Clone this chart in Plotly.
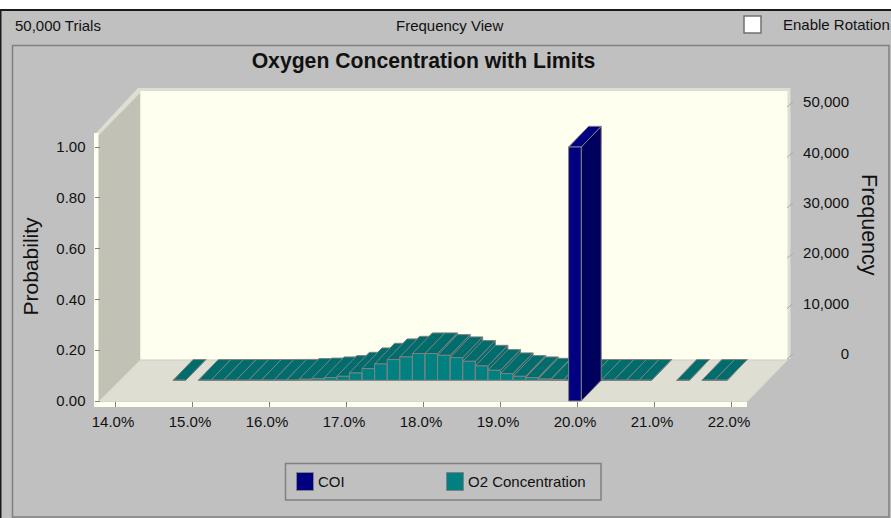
import plotly.graph_objects as go

# ---- data ----
title = "Oxygen Concentration with Limits"
trials_label = "50,000 Trials"
view_label = "Frequency View"
rotation_label = "Enable Rotation"

x_ticks = [14, 15, 16, 17, 18, 19, 20, 21, 22]
x_tick_labels = ["14.0%", "15.0%", "16.0%", "17.0%", "18.0%", "19.0%", "20.0%", "21.0%", "22.0%"]
prob_ticks = [0.0, 0.2, 0.4, 0.6, 0.8, 1.0]
freq_ticks = [0, 10000, 20000, 30000, 40000, 50000]

coi_bin = [19.973]
coi_prob = [1.0]

o2_bins = [14.577, 14.904, 15.068, 15.231, 15.395, 15.558, 15.722, 15.885, 16.049,
           16.212, 16.376, 16.539, 16.703, 16.866, 17.03, 17.193, 17.357, 17.52,
           17.684, 17.847, 18.011, 18.174, 18.338, 18.501, 18.665, 18.828, 18.992,
           19.155, 19.319, 19.482, 19.646, 19.809, 19.973, 20.136, 20.3, 20.463,
           20.627, 21.117, 21.444, 21.608]
o2_prob = [0.0001, 0.0001, 0.0001, 0.0002, 0.0002, 0.0003, 0.0004, 0.0006, 0.0008,
           0.004, 0.006, 0.0106, 0.0157, 0.0287, 0.0461, 0.0642, 0.0815, 0.0917,
           0.1051, 0.1051, 0.0984, 0.0894, 0.0748, 0.0563, 0.0394, 0.0264, 0.0157,
           0.0106, 0.0051, 0.0024, 0.0012, 0.0006, 0.0004, 0.0003, 0.0002, 0.0001,
           0.0001, 0.0001, 0.0001, 0.0001]

# ---- styling / geometry ----
W, H = 891, 518
PANEL = "#C0C0C0"
WALL = "#FFFFF0"
SIDE_WALL = "#C1C1B6"
FLOOR = "#DEDED3"
EDGE = "#808080"
TEAL, TEAL_DARK = "#008080", "#006C6C"
NAVY, NAVY_DARK = "#000080", "#00005E"
FONT = "Liberation Sans"

PX_PER_PCT = 77.0
PX_PER_PROB = 254.0
PX_PER_FREQ = 252.0 / 50000
X0_PX, Y0_PX, Y2_0_PX = 115.0, 401.0, 354.0

half_bin = 0.08175
dx = 20.0 / PX_PER_PCT          # oblique depth of one series row
dy = 20.7 / PX_PER_PROB


def fx(px):
    return px / W


def fy(py):
    return 1 - py / H


def poly(points, fill, line=None, lw=0):
    path = "M " + " L ".join(f"{fx(a):.5f} {fy(b):.5f}" for a, b in points) + " Z"
    return dict(type="path", xref="paper", yref="paper", path=path, fillcolor=fill,
                line=dict(color=line or fill, width=lw), layer="below")


def rect(x0, y0, x1, y1, fill, line=None, lw=0):
    return dict(type="rect", xref="paper", yref="paper", x0=fx(x0), x1=fx(x1),
                y0=fy(y1), y1=fy(y0), fillcolor=fill,
                line=dict(color=line or fill, width=lw), layer="below")


def bar_faces(center, value, row):
    """Returns (front, side, top) polygons of one oblique bar in data units."""
    x0 = center - half_bin + row * dx
    x1 = center + half_bin + row * dx
    y0 = row * dy
    y1 = y0 + value
    front = ([x0, x1, x1, x0, x0], [y0, y0, y1, y1, y0])
    side = ([x1, x1 + dx, x1 + dx, x1, x1], [y0, y0 + dy, y1 + dy, y1, y0])
    top = ([x0, x1, x1 + dx, x0 + dx, x0], [y1, y1, y1 + dy, y1 + dy, y1])
    return front, side, top


def face(xy, fill, name, show=False):
    return go.Scatter(x=xy[0], y=xy[1], mode="lines", fill="toself", fillcolor=fill,
                      line=dict(color=EDGE, width=1), name=name, showlegend=show,
                      hoverinfo="skip", xaxis="x", yaxis="y")


fig = go.Figure()

# O2 concentration row (back row), painted left to right, fronts last
o2_front_x, o2_front_y = [], []
for c, v in zip(o2_bins, o2_prob):
    f, s, t = bar_faces(c, v, 1)
    fig.add_trace(face(s, TEAL_DARK, "O2 Concentration"))
    fig.add_trace(face(t, TEAL_DARK, "O2 Concentration"))
    o2_front_x += f[0] + [None]
    o2_front_y += f[1] + [None]
fig.add_trace(face((o2_front_x, o2_front_y), TEAL, "O2 Concentration"))

# COI row (front row)
for c, v in zip(coi_bin, coi_prob):
    f, s, t = bar_faces(c, v, 0)
    fig.add_trace(face(s, NAVY_DARK, "COI"))
    fig.add_trace(face(t, NAVY, "COI"))
    fig.add_trace(face(f, NAVY, "COI"))

# right-hand frequency ticks: small oblique strokes on the frequency axis
rx0 = 14 + (787 - X0_PX) / PX_PER_PCT
rx1 = 14 + (793 - X0_PX) / PX_PER_PCT
tick_x, tick_y = [], []
for v in freq_ticks:
    tick_x += [rx0, rx1, None]
    tick_y += [v - 5 / PX_PER_FREQ, v, None]
fig.add_trace(go.Scatter(x=tick_x, y=tick_y, mode="lines", xaxis="x", yaxis="y2",
                         line=dict(color="#A9A9A0", width=1), showlegend=False,
                         hoverinfo="skip"))

shapes = [
    rect(0, 0, W, 9.5, "#FFFFFF"),
    rect(0, 9, W, 11, "#1A1A1A"),
    rect(0, 10, 1.5, H, "#1A1A1A"),
    rect(12.5, 45.5, 889, 517, PANEL, EDGE, 1.5),
    # checkbox
    rect(744, 16, 761, 33, "#FFFFFF", "#707070", 1.5),
    # 3-D box
    rect(139, 88, 790.5, 359, FLOOR),
    poly([(98, 135), (140, 91), (140, 360), (98, 401)], SIDE_WALL),
    poly([(95, 134), (138, 88), (141, 88), (141, 92), (98, 136)], FLOOR),
    rect(140.5, 91, 787.5, 360, WALL),
    poly([(98, 402), (140, 360), (788, 360), (747, 402)], FLOOR, "#CDCDC2", 1),
    rect(94, 133, 98.5, 407, WALL),
    rect(94, 402, 747, 407, WALL),
    # legend
    rect(285.5, 463.5, 601, 500, PANEL, EDGE, 1.5),
    rect(296.5, 472.5, 313.5, 490.5, NAVY, EDGE, 1),
    rect(446.5, 472.5, 463.5, 490.5, TEAL, EDGE, 1),
]


def text(s, x, y, size=15, anchor="left", angle=0):
    return dict(text=s, x=fx(x), y=fy(y), xref="paper", yref="paper", showarrow=False,
                xanchor=anchor, yanchor="middle", textangle=angle,
                font=dict(family=FONT, size=size, color="#111111"))


annotations = [
    text(trials_label, 13, 25),
    text(view_label, 449, 25.5, anchor="center"),
    text(rotation_label, 781, 24.5),
    text("COI", 316, 481.5),
    text("O2 Concentration", 466, 481.5),
    text("Probability", 30, 266.5, size=21, anchor="center", angle=-90),
    text("Frequency", 869, 225, size=21.5, anchor="center", angle=90),
]

tickfont = dict(family=FONT, size=15, color="#111111")
fig.update_layout(
    width=W, height=H, margin=dict(l=0, r=0, t=0, b=0, autoexpand=False),
    paper_bgcolor=PANEL, plot_bgcolor="rgba(0,0,0,0)", showlegend=False,
    title=dict(text=f"<b>{title}</b>", x=fx(423.5), y=fy(61), xanchor="center", yanchor="middle",
               xref="paper", yref="paper", font=dict(family=FONT, size=21.2, color="#111111")),
    xaxis=dict(range=[14 - X0_PX / PX_PER_PCT, 14 + (W - X0_PX) / PX_PER_PCT],
               domain=[0, 1], anchor="free", position=fy(407), side="bottom",
               tickvals=x_ticks, ticktext=x_tick_labels, ticks="inside", ticklen=5,
               tickcolor=EDGE, tickwidth=1, showgrid=False, zeroline=False, showline=False,
               tickfont=tickfont, ticklabelstandoff=4, ticklabelshift=-2),
    yaxis=dict(range=[-(H - Y0_PX) / PX_PER_PROB, Y0_PX / PX_PER_PROB],
               domain=[0, 1], anchor="free", position=fx(93.5), side="left",
               tickvals=prob_ticks, tickformat=".2f", ticks="inside", ticklen=5,
               tickcolor=EDGE, tickwidth=1, showgrid=False, zeroline=False, showline=False,
               tickfont=tickfont, ticklabelstandoff=8),
    yaxis2=dict(range=[-(H - Y2_0_PX) / PX_PER_FREQ, Y2_0_PX / PX_PER_FREQ],
                domain=[0, 1], overlaying="y", anchor="free", position=fx(849), side="left",
                tickvals=freq_ticks, tickformat=",d", ticks="", showgrid=False,
                zeroline=False, showline=False, tickfont=tickfont),
    shapes=shapes, annotations=annotations,
)

fig.write_html("out.html", config=dict(displayModeBar=False),
               post_script="document.body.style.margin='0';")
